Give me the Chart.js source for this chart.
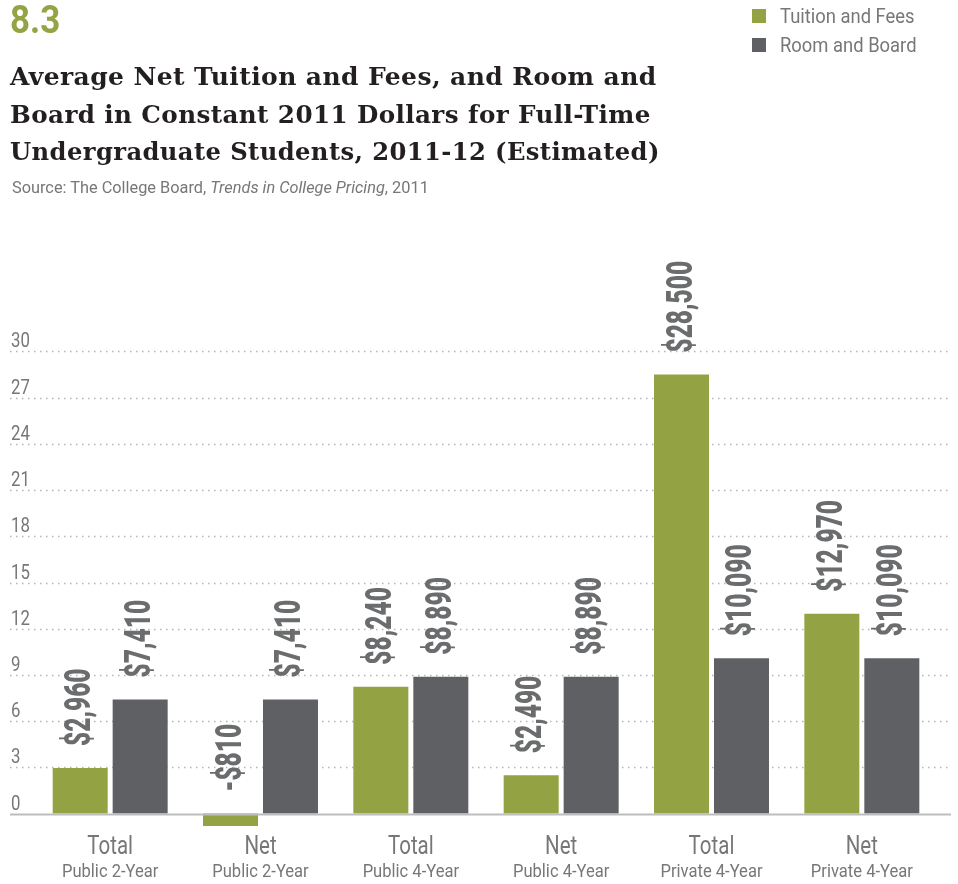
<!DOCTYPE html>
<html>
<head>
<meta charset="utf-8">
<script src="https://cdn.jsdelivr.net/npm/chart.js@4"></script>
<style>
  html, body { margin: 0; padding: 0; background: #fff; }
  #wrap { position: relative; width: 958px; height: 884px; overflow: hidden; }
  #chart { position: absolute; left: 0; top: 0; }
  .cond { position: absolute; white-space: nowrap; transform-origin: left top; font-family: Roboto, sans-serif; }
  #num { left: 10px; top: -2px; font-size: 38px; color: #94a444; font-weight: bold; transform: scaleX(0.92); }
  .tl { position: absolute; left: 10px; font-family: "DejaVu Serif", serif; font-weight: bold; transform-origin: left top;
        font-size: 25px; letter-spacing: 0.4px; line-height: 37.5px; color: #231f20; white-space: nowrap; }
  #source { left: 12px; top: 177px; font-size: 17px; color: #777; transform: scaleX(0.96); }
  .sw { position: absolute; left: 752px; width: 14px; height: 14px; }
  .lg { left: 780px; font-size: 20px; color: #777; transform: scaleX(0.92); }
</style>
</head>
<body>
<div id="wrap">
  <canvas id="chart" width="958" height="884"></canvas>
  <div id="num" class="cond">8.3</div>
  <div class="tl" style="top:58px;">Average Net Tuition and Fees, and Room and</div>
  <div class="tl" style="top:95.5px; transform: scaleX(0.985);">Board in Constant 2011 Dollars for Full-Time</div>
  <div class="tl" style="top:133px; transform: scaleX(0.97);">Undergraduate Students, 2011-12 (Estimated)</div>
  <div id="source" class="cond">Source: The College Board, <i>Trends in College Pricing</i>, 2011</div>
  <div class="sw" style="top:9px; background:#93a343;"></div>
  <div class="lg cond" style="top:4px;">Tuition and Fees</div>
  <div class="sw" style="top:38px; background:#5f6063;"></div>
  <div class="lg cond" style="top:33px;">Room and Board</div>
</div>
<script>
// values in thousands of 2011 dollars
const mainLabels = ["Total", "Net", "Total", "Net", "Total", "Net"];
const subLabels = ["Public 2-Year", "Public 2-Year", "Public 4-Year", "Public 4-Year", "Private 4-Year", "Private 4-Year"];
const tuitionFees = [2.96, -0.81, 8.24, 2.49, 28.5, 12.97];
const roomBoard = [7.41, 7.41, 8.89, 8.89, 10.09, 10.09];
const yTicks = [0, 3, 6, 9, 12, 15, 18, 21, 24, 27, 30];

const GREEN = "#93a343";
const GRAY = "#5f6063";
const TEXT = "#777";

function fmtDollar(v) {
  const n = Math.round(v * 1000);
  const s = "$" + Math.abs(n).toLocaleString("en-US");
  return n < 0 ? "-" + s : s;
}

// draw horizontally compressed text (the original uses a condensed face)
function condText(ctx, txt, x, y, sx, align) {
  ctx.save();
  ctx.translate(x, y);
  ctx.scale(sx, 1);
  ctx.textAlign = align;
  ctx.fillText(txt, 0, 0);
  ctx.restore();
}

const gridPlugin = {
  id: "gridPlugin",
  beforeDatasetsDraw(chart) {
    const ctx = chart.ctx;
    const y = chart.scales.y;
    ctx.save();
    yTicks.forEach((t) => {
      const py = Math.round(y.getPixelForValue(t)) + 0.5;
      if (t !== 0) {
        ctx.strokeStyle = "#b5b5b5";
        ctx.lineWidth = 1.5;
        ctx.setLineDash([1.5, 4.5]);
        ctx.beginPath();
        ctx.moveTo(10, py);
        ctx.lineTo(950, py);
        ctx.stroke();
      }
      ctx.fillStyle = TEXT;
      ctx.font = "21px Roboto";
      ctx.textBaseline = "alphabetic";
      condText(ctx, String(t), 11, py - 5, 0.8, "left");
    });
    ctx.restore();
  },
  afterDatasetsDraw(chart) {
    const ctx = chart.ctx;
    const y = chart.scales.y;
    const x = chart.scales.x;
    const zero = y.getPixelForValue(0);
    ctx.save();
    // zero line
    ctx.strokeStyle = "#bdbdbd";
    ctx.lineWidth = 2;
    ctx.beginPath();
    ctx.moveTo(10, zero + 1);
    ctx.lineTo(951, zero + 1);
    ctx.stroke();

    // value labels, rotated
    ctx.fillStyle = "#6b6c6e";
    ctx.font = "900 36px Roboto";
    ctx.textBaseline = "middle";
    chart.data.datasets.forEach((ds, di) => {
      chart.getDatasetMeta(di).data.forEach((bar, i) => {
        const top = Math.min(bar.y, zero);
        ctx.save();
        ctx.translate(bar.x + 1, top - 22);
        ctx.rotate(-Math.PI / 2);
        ctx.scale(0.68, 1);
        ctx.textAlign = "left";
        ctx.fillText(fmtDollar(ds.data[i]), 0, 0);
        ctx.restore();
      });
    });

    // category labels
    ctx.fillStyle = TEXT;
    ctx.textBaseline = "alphabetic";
    mainLabels.forEach((m, i) => {
      const px = x.getPixelForValue(i);
      ctx.font = "25px Roboto";
      condText(ctx, m, px, 854, 0.82, "center");
      ctx.font = "18px Roboto";
      condText(ctx, subLabels[i], px, 877, 0.92, "center");
    });
    ctx.restore();
  }
};

new Chart(document.getElementById("chart"), {
  type: "bar",
  data: {
    labels: mainLabels,
    datasets: [
      { label: "Tuition and Fees", data: tuitionFees, backgroundColor: GREEN,
        barPercentage: 0.917, categoryPercentage: 0.798 },
      { label: "Room and Board", data: roomBoard, backgroundColor: GRAY,
        barPercentage: 0.917, categoryPercentage: 0.798 }
    ]
  },
  options: {
    responsive: false,
    animation: false,
    layout: { padding: { left: 35, right: 21, top: 259, bottom: 55 } },
    plugins: { legend: { display: false }, tooltip: { enabled: false } },
    scales: {
      x: { display: false },
      y: { display: false, min: -1, max: 36 }
    }
  },
  plugins: [gridPlugin]
});
</script>
</body>
</html>
